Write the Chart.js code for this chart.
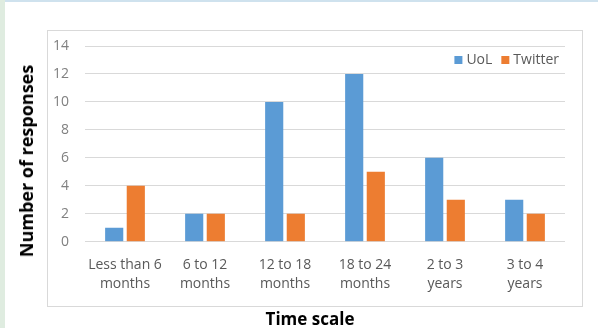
<!DOCTYPE html>
<html>
<head>
<meta charset="utf-8">
<script src="https://cdn.jsdelivr.net/npm/chart.js@4/dist/chart.umd.min.js"></script>
<style>
  html, body { margin: 0; padding: 0; background: #ffffff; }
  #wrap { position: relative; width: 598px; height: 328px; overflow: hidden; background: #fff; }
  #leftStrip { position: absolute; left: 0; top: 0; width: 5px; height: 328px; background: #dfece0; }
  #topStrip { position: absolute; left: 5px; top: 0; width: 593px; height: 2px; background: #cfe2ee; }
  #frame { position: absolute; left: 47px; top: 30px; width: 534px; height: 275px; border: 1px solid #d9d9d9; }
  #chart { position: absolute; left: 0; top: 0; }
  .ytitle { position: absolute; left: 26px; top: 161px; transform: translate(-50%, -50%) rotate(-90deg);
    font-family: "Open Sans", sans-serif; font-weight: bold; font-size: 18px; color: #000; white-space: nowrap; }
  .xtitle { position: absolute; left: 310px; top: 318px; transform: translate(-50%, -50%);
    font-family: "Open Sans", sans-serif; font-weight: bold; font-size: 17px; color: #000; white-space: nowrap; }
</style>
</head>
<body>
<div id="wrap">
  <div id="leftStrip"></div>
  <div id="topStrip"></div>
  <div id="frame"></div>
  <canvas id="chart" width="598" height="328"></canvas>
  <div class="ytitle">Number of responses</div>
  <div class="xtitle">Time scale</div>
</div>
<script>
const categories = [
  ["Less than 6", "months"],
  ["6 to 12", "months"],
  ["12 to 18", "months"],
  ["18 to 24", "months"],
  ["2 to 3", "years"],
  ["3 to 4", "years"]
];
const seriesNames = ["UoL", "Twitter"];
const uolValues = [1, 2, 10, 12, 6, 3];
const twitterValues = [4, 2, 2, 5, 3, 2];
const yTicks = [0, 2, 4, 6, 8, 10, 12, 14];

const colors = ["#5b9bd5", "#ed7d31"];
const FONT = "'Open Sans', sans-serif";

const legendPlugin = {
  id: 'insideLegend',
  afterDraw(chart) {
    const ctx = chart.ctx;
    ctx.save();
    ctx.font = "14px " + FONT;
    ctx.textBaseline = 'middle';
    ctx.textAlign = 'left';
    const box = 8, gapBox = 4, gapItem = 9;
    let total = 0;
    chart.data.datasets.forEach((ds, i) => {
      total += box + gapBox + ctx.measureText(ds.label).width + (i ? gapItem : 0);
    });
    let x = 559 - total;
    const y = 60;
    chart.data.datasets.forEach((ds) => {
      ctx.fillStyle = ds.backgroundColor;
      ctx.fillRect(x, y - 4, box, box);
      x += box + gapBox;
      ctx.fillStyle = '#595959';
      ctx.fillText(ds.label, x, y + 0.5);
      x += ctx.measureText(ds.label).width + gapItem;
    });
    ctx.restore();
  }
};

new Chart(document.getElementById('chart'), {
  type: 'bar',
  data: {
    labels: categories,
    datasets: [
      { label: seriesNames[0], data: uolValues, backgroundColor: colors[0] },
      { label: seriesNames[1], data: twitterValues, backgroundColor: colors[1] }
    ]
  },
  options: {
    responsive: false,
    animation: false,
    devicePixelRatio: 1,
    layout: { padding: { left: 0, top: 46, right: 33, bottom: 0 } },
    datasets: { bar: { barPercentage: 0.84, categoryPercentage: 0.54 } },
    plugins: { legend: { display: false }, tooltip: { enabled: false } },
    scales: {
      x: {
        grid: { display: false, drawTicks: false },
        border: { display: false },
        ticks: { font: { family: FONT, size: 14, lineHeight: 1.36 }, color: '#595959', padding: 14, maxRotation: 0, autoSkip: false },
        afterFit(scale) { scale.height = 86.3; }
      },
      y: {
        min: 0, max: 14,
        afterBuildTicks(scale) { scale.ticks = yTicks.map(v => ({ value: v })); },
        grid: { color: '#d9d9d9', drawTicks: false, lineWidth: 1 },
        border: { display: false },
        ticks: { font: { family: FONT, size: 14 }, color: '#808080', padding: 16 },
        afterFit(scale) { scale.width = 85; }
      }
    }
  },
  plugins: [legendPlugin]
});
</script>
</body>
</html>
